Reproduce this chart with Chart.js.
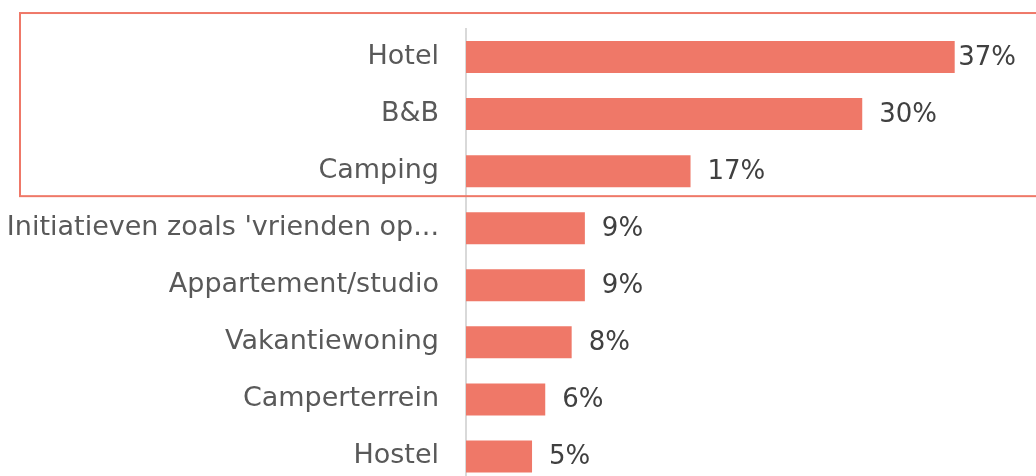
<!DOCTYPE html>
<html>
<head>
<meta charset="utf-8">
<script src="https://cdn.jsdelivr.net/npm/chart.js@4"></script>
<style>
  html, body { margin: 0; padding: 0; background: #fff; overflow: hidden; }
  #wrap { width: 1036px; height: 476px; overflow: hidden; }
</style>
</head>
<body>
<div id="wrap"><canvas id="myChart" width="1036" height="485"></canvas></div>
<script>
var labels = [
  "Hotel",
  "B&B",
  "Camping",
  "Initiatieven zoals 'vrienden op...",
  "Appartement/studio",
  "Vakantiewoning",
  "Camperterrein",
  "Hostel",
];
var values = [37, 30, 17, 9, 9, 8, 6, 5];
var highlighted = 3; // top 3 in a box

var coral = "#EF7868";

// value labels right of the bars
var valueLabels = {
  id: "valueLabels",
  afterDatasetsDraw: function (chart) {
    var ctx = chart.ctx;
    var meta = chart.getDatasetMeta(0);
    ctx.save();
    ctx.font = "26px 'DejaVu Sans'";
    ctx.fillStyle = "#404040";
    ctx.textBaseline = "middle";
    ctx.textAlign = "left";
    meta.data.forEach(function (bar, i) {
      var txt = values[i] + "%";
      var w = ctx.measureText(txt).width;
      var x = bar.x + 17;
      if (x + w > chart.width - 20) x = chart.width - 20 - w;
      ctx.fillText(txt, x, bar.y + 1);
    });
    ctx.restore();
  },
};

// box around the top categories
var highlightBox = {
  id: "highlightBox",
  afterDraw: function (chart) {
    var y = chart.scales.y;
    var top = y.getPixelForValue(0) - 44;
    var bottom = y.getPixelForValue(highlighted - 1) + 25;
    var ctx = chart.ctx;
    ctx.save();
    ctx.strokeStyle = coral;
    ctx.lineWidth = 2;
    ctx.strokeRect(20, top, chart.width + 20, bottom - top);
    ctx.restore();
  },
};

var ctx = document.getElementById("myChart").getContext("2d");
var myChart = new Chart(ctx, {
  type: "bar",
  data: {
    labels: labels,
    datasets: [
      {
        data: values,
        backgroundColor: coral,
        borderWidth: 0,
        barPercentage: 0.56,
        categoryPercentage: 1,
      },
    ],
  },
  options: {
    indexAxis: "y",
    responsive: false,
    animation: false,
    plugins: {
      legend: { display: false },
      tooltip: { enabled: false },
    },
    layout: {
      padding: { top: 28.5, right: 43, left: 0, bottom: 0 },
    },
    scales: {
      x: {
        display: false,
        min: 0,
        max: 39.9,
      },
      y: {
        grid: { display: false, drawTicks: false },
        border: { display: true, color: "#d9d9d9", width: 2 },
        ticks: {
          padding: 27,
          color: "#595959",
          font: { family: "'DejaVu Sans'", size: 27 },
        },
        afterFit: function (scale) {
          scale.width = 466;
          scale.paddingTop = 0;
          scale.paddingBottom = 0;
        },
      },
    },
  },
  plugins: [valueLabels, highlightBox],
});
</script>
</body>
</html>
